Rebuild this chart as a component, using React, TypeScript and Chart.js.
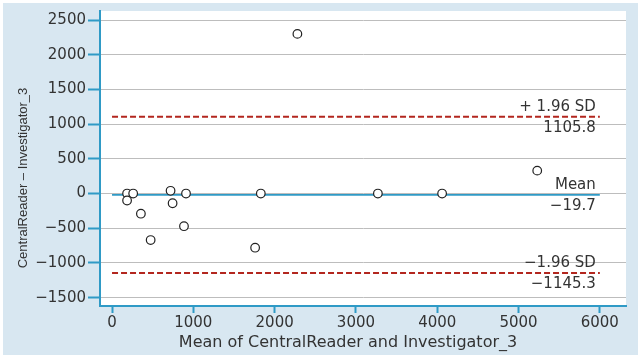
import React, { useEffect, useRef } from "react";
import { Chart, registerables } from "chart.js";

Chart.register(...registerables);

// Bland–Altman data
const meanValues = [185, 260, 185, 355, 720, 745, 910, 885, 475, 1760, 1830, 2280, 3270, 4060, 5230];
const diffValues = [0, 0, -100, -290, 40, -140, 0, -470, -670, -780, 0, 2300, 0, 0, 330];

const meanDiff = -19.7;
const upperLoA = 1105.8;
const lowerLoA = -1145.3;
const lineStart = 0;
const lineEnd = 6000;

const xTicks = [0, 1000, 2000, 3000, 4000, 5000, 6000];
const yTicks = [-1500, -1000, -500, 0, 500, 1000, 1500, 2000, 2500];

const xTitle = "Mean of CentralReader and Investigator_3";
const yTitle = "CentralReader \u2013 Investigator_3";

const lineLabels = [
  { value: upperLoA, top: "+ 1.96 SD" },
  { value: meanDiff, top: "Mean" },
  { value: lowerLoA, top: "\u22121.96 SD" },
];

const fmt = (v: number) => (v < 0 ? "\u2212" + Math.abs(v) : String(v));

const FONT = "'DejaVu Sans', sans-serif";
const NARROW = "'Liberation Sans', sans-serif";
const AXIS_BLUE = "#2f9ac6";
const PANEL = "#d8e7f1";
const RED = "#b3261e";
const TEXT = "#333333";

const bgPlugin = {
  id: "bg",
  beforeDraw(chart: any) {
    const { ctx, chartArea } = chart;
    ctx.save();
    ctx.fillStyle = "#ffffff";
    ctx.fillRect(0, 0, chart.width, chart.height);
    ctx.fillStyle = PANEL;
    ctx.fillRect(3, 3, chart.width - 5, chart.height - 7);
    ctx.fillStyle = "#ffffff";
    ctx.fillRect(chartArea.left, chartArea.top, chartArea.right - chartArea.left, chartArea.bottom - chartArea.top);
    ctx.restore();
  },
};

const labelPlugin = {
  id: "lineLabels",
  afterDatasetsDraw(chart: any) {
    const { ctx } = chart;
    const xs = chart.scales.x;
    const ys = chart.scales.y;
    const xr = xs.getPixelForValue(lineEnd) - 4;
    ctx.save();
    ctx.font = "15px " + FONT;
    ctx.fillStyle = TEXT;
    ctx.textAlign = "right";
    lineLabels.forEach((l) => {
      const y = ys.getPixelForValue(l.value);
      ctx.textBaseline = "bottom";
      ctx.fillText(l.top, xr, y - 2);
      ctx.textBaseline = "top";
      ctx.fillText(fmt(l.value), xr, y + 4);
    });
    ctx.restore();
  },
  afterDraw(chart: any) {
    const { ctx } = chart;
    ctx.save();
    ctx.fillStyle = TEXT;
    ctx.textAlign = "center";
    ctx.textBaseline = "middle";
    ctx.font = "16px " + FONT;
    ctx.fillText(xTitle, 348, 343);
    ctx.translate(23, 178);
    ctx.rotate(-Math.PI / 2);
    ctx.font = "13px " + NARROW;
    ctx.fillText(yTitle, 0, 0);
    ctx.restore();
  },
};

export default function App() {
  const ref = useRef<HTMLCanvasElement | null>(null);
  useEffect(() => {
    document.body.style.margin = "0";
    const canvas = ref.current;
    if (!canvas) return;
    const hLine = (v: number) => [
      { x: lineStart, y: v },
      { x: lineEnd, y: v },
    ];
    const chart = new Chart(canvas, {
      type: "scatter",
      data: {
        datasets: [
          {
            data: meanValues.map((x, i) => ({ x, y: diffValues[i] })),
            pointRadius: 4.3,
            pointBorderWidth: 1.2,
            pointBorderColor: "#222",
            pointBackgroundColor: "#fff",
            showLine: false,
            order: 0,
          } as any,
          {
            type: "line",
            data: hLine(meanDiff),
            borderColor: AXIS_BLUE,
            borderWidth: 1.6,
            pointRadius: 0,
            order: 1,
          },
          {
            type: "line",
            data: hLine(upperLoA),
            borderColor: RED,
            borderWidth: 2,
            borderDash: [6, 3],
            pointRadius: 0,
            order: 1,
          },
          {
            type: "line",
            data: hLine(lowerLoA),
            borderColor: RED,
            borderWidth: 2,
            borderDash: [6, 3],
            pointRadius: 0,
            order: 1,
          },
        ],
      },
      options: {
        responsive: false,
        animation: false,
        layout: { padding: { left: 0, top: 8, right: 14, bottom: 0 } },
        plugins: { legend: { display: false }, tooltip: { enabled: false } },
        scales: {
          x: {
            type: "linear",
            min: -148,
            max: 6322,
            afterBuildTicks: (s: any) => {
              s.ticks = xTicks.map((v) => ({ value: v }));
            },
            afterFit: (s: any) => {
              s.height = 53;
            },
            ticks: {
              color: TEXT,
              font: { family: FONT, size: 15 },
              padding: 1,
              callback: (v: any) => fmt(Number(v)),
            },
            grid: {
              drawOnChartArea: false,
              drawTicks: true,
              tickLength: 7,
              tickColor: AXIS_BLUE,
              tickWidth: 2,
            },
            border: { color: AXIS_BLUE, width: 2 },
            title: { display: false },
          },
          y: {
            type: "linear",
            min: -1620,
            max: 2630,
            afterBuildTicks: (s: any) => {
              s.ticks = yTicks.map((v) => ({ value: v }));
            },
            afterFit: (s: any) => {
              s.width = 100;
            },
            ticks: {
              color: TEXT,
              font: { family: FONT, size: 15 },
              padding: 2,
              callback: (v: any) => fmt(Number(v)),
            },
            grid: {
              color: "#bdbdbd",
              lineWidth: 1,
              drawTicks: true,
              tickLength: 12,
              tickColor: AXIS_BLUE,
              tickWidth: 2,
            },
            border: { color: AXIS_BLUE, width: 2 },
            title: { display: false },
          },
        },
      },
      plugins: [bgPlugin, labelPlugin],
    });
    return () => chart.destroy();
  }, []);
  return <canvas ref={ref} width={640} height={359} style={{ display: "block", width: 640, height: 359 }} />;
}
